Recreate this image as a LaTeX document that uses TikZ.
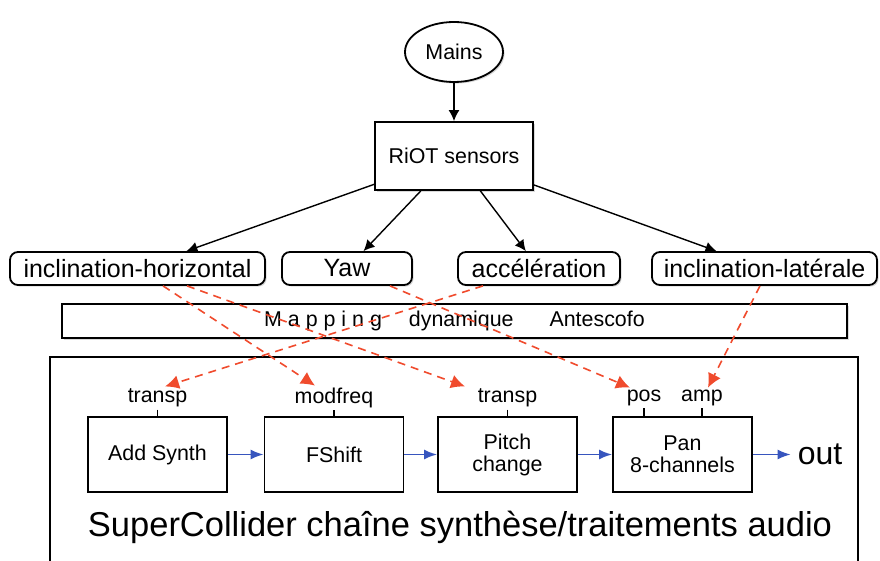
\documentclass[tikz,border=0pt]{standalone}
\usepackage{fontspec}
\setmainfont{Liberation Sans}
\usetikzlibrary{arrows.meta,shapes.geometric,shadows,calc}

\definecolor{mapred}{RGB}{240,75,45}
\definecolor{chainblue}{RGB}{55,85,190}

\tikzset{
    frame/.style={draw, line width=0.9pt, fill=white},
    shadebox/.style={frame, drop shadow={shadow xshift=0.8pt, shadow yshift=-0.8pt, opacity=0.3}},
    leaf/.style={shadebox, rounded corners=4pt, minimum height=16.5pt, inner sep=0pt,
        font=\fontsize{12.5}{14}\selectfont},
    stage/.style={frame, minimum width=69.5pt, minimum height=37.5pt, align=center,
        font=\fontsize{10.7}{11}\selectfont},
    param/.style={inner sep=1pt, font=\fontsize{10.7}{12}\selectfont},
    feed/.style={-{Latex[length=5.5pt,width=5.5pt]}, line width=0.7pt},
    mapline/.style={-{Latex[length=7pt,width=7pt]}, dash pattern=on 4pt off 3pt,
        line width=0.8pt, mapred},
    chain/.style={-{Latex[length=6.5pt,width=5pt]}, line width=0.9pt, chainblue}
}

\begin{document}
\begin{tikzpicture}[x=0.5pt, y=-0.5pt]
        \useasboundingbox (0,0) rectangle (880,561);

        \node [shadebox, ellipse, minimum width=49pt, minimum height=30pt, inner sep=0pt,
            font=\fontsize{10.7}{12}\selectfont] (mains) at (454,52) {Mains};
        \node [shadebox, minimum width=79pt, minimum height=34pt,
            font=\fontsize{10.7}{12}\selectfont] (riot) at (454,156) {RiOT sensors};

        \node [leaf, minimum width=127.5pt] (hz) at (137.5,268.5) {inclination-horizontal};
        \node [leaf, minimum width=65pt] (yaw) at (347,268.5) {Yaw};
        \node [leaf, minimum width=81pt] (acc) at (539,268.5) {accélération};
        \node [leaf, minimum width=112.5pt] (lat) at (764.5,268.5) {inclination-latérale};

        \draw [feed] (mains) -- (riot);
        \draw [feed] (riot) -- (hz);
        \draw [feed] (riot) -- (yaw);
        \draw [feed] (riot) -- (acc);
        \draw [feed] (riot) -- (lat);

        \node [shadebox, minimum width=392.5pt, minimum height=17pt,
            font=\fontsize{10.7}{12}\selectfont] (mapping) at (454.5,321)
            {M a p p i n g\hspace{13.5pt}dynamique\hspace{18pt}Antescofo};

        % SuperCollider frame, open at the bottom
        \draw [line width=0.9pt] (50,561) -- (50,357) -- (858,357) -- (858,561);
        \node [font=\fontsize{17.25}{20}\selectfont] (sc) at (460,527)
            {SuperCollider chaîne synthèse/traitements audio};

        \node [stage] (add) at (157.5,454.5) {Add Synth};
        \node [stage] (fshift) at (334,454.5) {FShift};
        \node [stage] (pitch) at (507.5,454.5) {Pitch\\change};
        \node [stage] (pan) at (682.5,454.5) {Pan\\8-channels};
        \node [font=\fontsize{16}{18}\selectfont] (out) at (820,454.5) {out};

        \node [param] (tadd) at (157.5,398) {transp};
        \node [param] (modfreq) at (334,398) {modfreq};
        \node [param] (tpitch) at (507.5,398) {transp};
        \node [param] (pos) at (644,398) {pos};
        \node [param] (amp) at (702,398) {amp};

        \draw [line width=0.7pt] (tadd.south) -- (tadd.south |- add.north);
        \draw [line width=0.7pt] (modfreq.south) -- (modfreq.south |- fshift.north);
        \draw [line width=0.7pt] (tpitch.south) -- (tpitch.south |- pitch.north);
        \draw [line width=0.7pt] (pos.south) -- (pos.south |- pan.north);
        \draw [line width=0.7pt] (amp.south) -- (amp.south |- pan.north);

        \draw [chain] (add) -- (fshift);
        \draw [chain] (fshift) -- (pitch);
        \draw [chain] (pitch) -- (pan);
        \draw [chain] (pan) -- (out);

        \draw [mapline] ($(hz.south)+(25.5,0)$) -- ($(modfreq.north)+(-19,0)$);
        \draw [mapline] ($(hz.south)+(49.5,0)$) -- ($(tpitch.north)+(-42.5,0)$);
        \draw [mapline] ($(yaw.south)+(43,0)$) -- ($(pos.north)+(-14,0)$);
        \draw [mapline] ($(acc.south)+(-56,0)$) -- ($(tadd.north)+(7.5,0)$);
        \draw [mapline] ($(lat.south)+(-4.5,0)$) -- ($(amp.north)+(6,0)$);
    \end{tikzpicture}
\end{document}
